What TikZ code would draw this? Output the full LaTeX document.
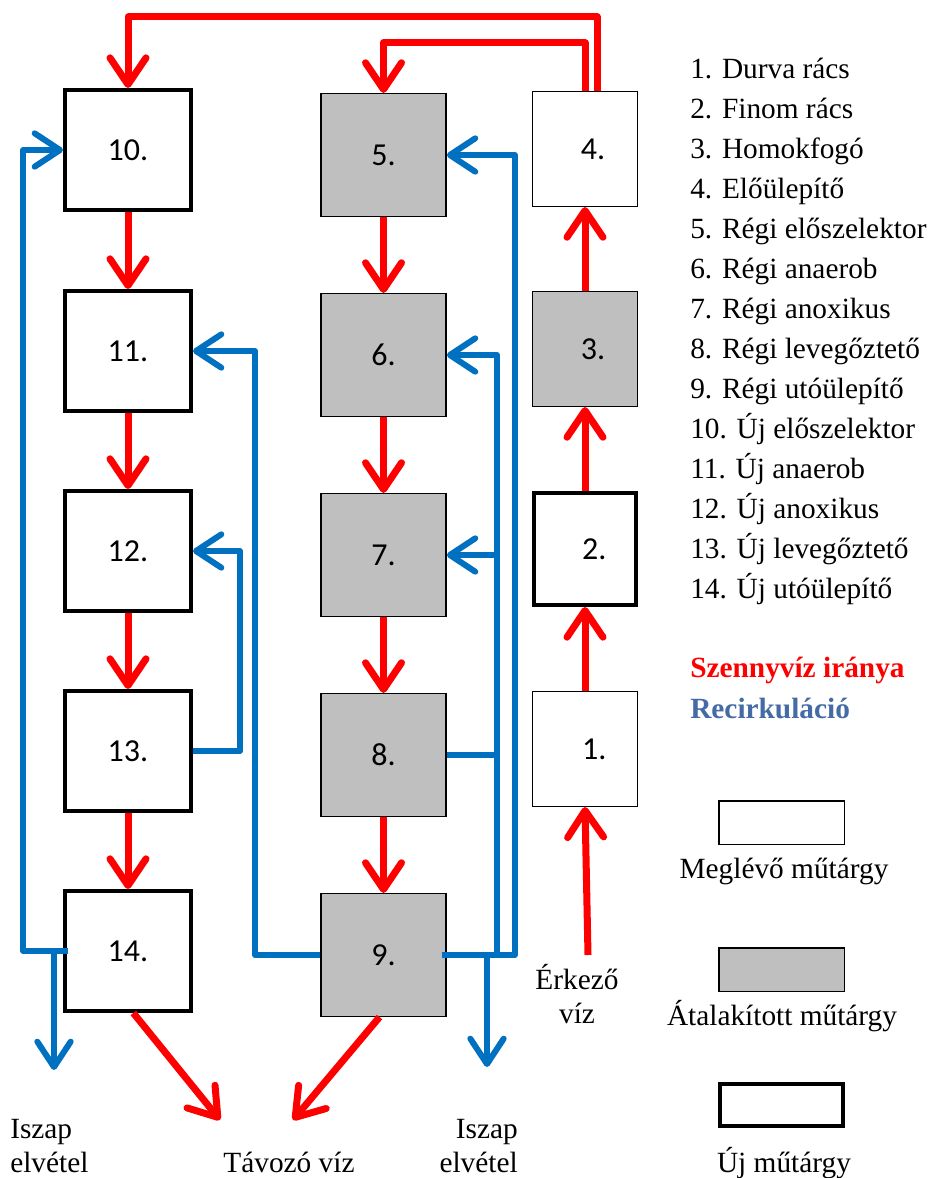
\documentclass[tikz,border=0pt]{standalone}
\usepackage{fontspec}
\setmainfont{Liberation Serif}
\newfontfamily\labfont{Carlito}
\usetikzlibrary{arrows.meta}
\definecolor{flowred}{RGB}{255,0,0}
\definecolor{recblue}{RGB}{0,112,192}
\definecolor{legblue}{RGB}{68,107,165}
\definecolor{boxgray}{RGB}{191,191,191}
\begin{document}
\begin{tikzpicture}[x=0.75pt,y=-0.75pt,
  boxlab/.style={font=\labfont\fontsize{24}{28}\selectfont},
  newbox/.style={draw=black,line width=3pt,fill=white,inner sep=0pt,boxlab},
  modbox/.style={draw=black,line width=1.1pt,fill=boxgray,inner sep=0pt,boxlab},
  oldbox/.style={draw=black,line width=1.1pt,fill=white,inner sep=0pt,boxlab},
  colA/.style={minimum width=94.5pt,minimum height=90pt},
  colB/.style={minimum width=94pt,minimum height=92pt},
  colC/.style={minimum width=78.4pt,minimum height=86pt},
  colCnew/.style={minimum width=76.5pt,minimum height=84pt},
  legtxt/.style={font=\rmfamily\fontsize{22}{25.5}\selectfont,inner sep=0pt},
  legbold/.style={font=\rmfamily\bfseries\fontsize{22}{25.5}\selectfont,inner sep=0pt},
  redflow/.style={draw=flowred,line width=5.25pt,line join=round,
    -{Straight Barb[length=20pt,width=27pt,round]}},
  recirc/.style={draw=recblue,line width=4.5pt,line join=round,
    -{Straight Barb[length=19pt,width=25pt,round]}},
  recline/.style={draw=recblue,line width=4.5pt,line join=round},
]
\useasboundingbox (0,0) rectangle (930,1178);

% column 1: new structures
\node[newbox,colA] (b10) at (128,150) {10.};
\node[newbox,colA] (b11) at (128,351) {11.};
\node[newbox,colA] (b12) at (128,551) {12.};
\node[newbox,colA] (b13) at (128,751) {13.};
\node[newbox,colA] (b14) at (128,951) {14.};
% column 2: converted structures
\node[modbox,colB] (b5) at (383.5,155) {5.};
\node[modbox,colB] (b6) at (383.5,355) {6.};
\node[modbox,colB] (b7) at (383.5,555) {7.};
\node[modbox,colB] (b8) at (383.5,755) {8.};
\node[modbox,colB] (b9) at (383.5,955) {9.};
% column 3
\node[oldbox,colC] (b4) at (585,149) {\hspace*{12pt}4.};
\node[modbox,colC] (b3) at (585,349) {\hspace*{12pt}3.};
\node[newbox,colCnew] (b2) at (585,549) {\hspace*{14pt}2.};
\node[oldbox,colC] (b1) at (585,749) {\hspace*{14pt}1.};

% red flow
\draw[redflow] (b10.south) -- (b11.north);
\draw[redflow] (b11.south) -- (b12.north);
\draw[redflow] (b12.south) -- (b13.north);
\draw[redflow] (b13.south) -- (b14.north);
\draw[redflow] (b5.south) -- (b6.north);
\draw[redflow] (b6.south) -- (b7.north);
\draw[redflow] (b7.south) -- (b8.north);
\draw[redflow] (b8.south) -- (b9.north);
\draw[redflow] (b1.north) -- (b2.south);
\draw[redflow] (b2.north) -- (b3.south);
\draw[redflow] (b3.north) -- (b4.south);
\draw[redflow] ([xshift=9pt]b4.north) -- ++(0,-74) -| (b10.north);
\draw[redflow] (b4.north) -- ++(0,-48) -| (b5.north);
\coordinate (inflow) at (588,955);
\draw[redflow] (inflow) -- (b1.south);
\coordinate (outA) at (220,1120);
\coordinate (outB) at (293,1120);
\draw[redflow] ([xshift=4pt]b14.south) -- (outA);
\draw[redflow] ([xshift=-3pt]b9.south) -- (outB);

% blue recirculation
\draw[recirc] ([xshift=4pt]b14.west) -- ++(-45,0) |- (b10.west);
\coordinate (slA) at (54,1070);
\draw[recirc] (slA |- b14.west) -- (slA);
\draw[recirc] (b9.west) -- ++(-65,0) |- (b11.east);
\draw[recirc] (b13.east) -- ++(47,0) |- (b12.east);
\draw[recline] (b8.east) -- ++(50,0) coordinate (j8);
\draw[recirc] (j8 |- b9.east) |- (b6.east);
\draw[recirc] (j8 |- b7.east) -- (b7.east);
\draw[recirc] ([xshift=-4pt]b9.east) -- ++(73,0) |- (b5.east);
\coordinate (slB) at (487,1067);
\draw[recirc] (slB |- b9.east) -- (slB);

% texts (base anchor = baseline of last line)
\node[legtxt,anchor=base,align=center] (erk) at (577,1023) {Érkező\\víz};
\node[legtxt,anchor=base west,align=left] (iszA) at (10,1172) {Iszap\\elvétel};
\node[legtxt,anchor=base east,align=right] (iszB) at (518,1172) {Iszap\\elvétel};
\node[legtxt,anchor=base] (tav) at (289,1172) {Távozó víz};

% legend list
\foreach \itm [count=\i from 0] in {1. Durva rács,2. Finom rács,3. Homokfogó,4. Előülepítő,5. Régi előszelektor,6. Régi anaerob,7. Régi anoxikus,8. Régi levegőztető,9. Régi utóülepítő,10. Új előszelektor,11. Új anaerob,12. Új anoxikus,13. Új levegőztető,14. Új utóülepítő}
  \node[legtxt,anchor=base west] (leg\i) at (690,{78+40*\i}) {\itm};
\node[legbold,anchor=base west,text=flowred] (legred) at (690,677) {Szennyvíz iránya};
\node[legbold,anchor=base west,text=legblue] (legblue) at (690,718) {Recirkuláció};

% legend boxes
\node[draw=black,line width=1.1pt,fill=white,minimum width=94.1pt,minimum height=32.6pt,inner sep=0pt] (lbA) at (781.5,822.5) {};
\node[legtxt,anchor=base] (ltA) at (784,878) {Meglévő műtárgy};
\node[draw=black,line width=1.1pt,fill=boxgray,minimum width=94.1pt,minimum height=32.6pt,inner sep=0pt] (lbB) at (781.5,969.5) {};
\node[legtxt,anchor=base] (ltB) at (782,1025) {Átalakított műtárgy};
\node[draw=black,line width=3pt,fill=white,minimum width=92.3pt,minimum height=30.8pt,inner sep=0pt] (lbC) at (781.5,1105) {};
\node[legtxt,anchor=base] (ltC) at (784,1172) {Új műtárgy};
\end{tikzpicture}
\end{document}
